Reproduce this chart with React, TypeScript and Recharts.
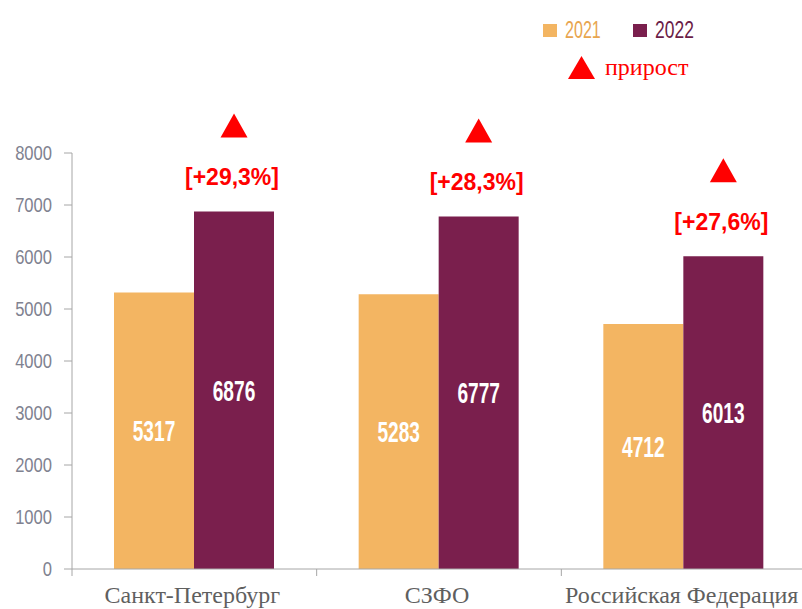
import React from 'react';
import { BarChart, Bar, XAxis, YAxis, LabelList, Legend } from 'recharts';

const categories = ['Санкт-Петербург', 'СЗФО', 'Российская Федерация'];
const values2021 = [5317, 5283, 4712];
const values2022 = [6876, 6777, 6013];
const growthLabels = ['[+29,3%]', '[+28,3%]', '[+27,6%]'];
const seriesNames = ['2021', '2022'];
const growthNote = 'прирост';
const yTicks = [0, 1000, 2000, 3000, 4000, 5000, 6000, 7000, 8000];

const ORANGE = '#F3B562';
const PURPLE = '#7A1F4D';
const RED = '#FF0000';
const AXIS = '#A6A6A6';
const SANS = "'Liberation Sans', Arial, sans-serif";
const SERIF = "'Liberation Serif', 'Times New Roman', serif";

const data = categories.map((c, i) => ({
  name: c,
  y2021: values2021[i],
  y2022: values2022[i],
  growth: growthLabels[i],
}));

const box = (p: any) => {
  const vb = p.viewBox || {};
  return {
    x: Number(p.x ?? vb.x),
    y: Number(p.y ?? vb.y),
    w: Number(p.width ?? vb.width),
    h: Number(p.height ?? vb.height),
  };
};

const ValueLabel = (p: any) => {
  const { x, y, w, h } = box(p);
  const cx = x + w / 2;
  const cy = y + h / 2;
  return (
    <text
      transform={`translate(${cx},${cy + 10.5}) scale(0.66,1)`}
      textAnchor="middle"
      fill="#FFFFFF"
      fontFamily={SANS}
      fontWeight="bold"
      fontSize={29}
    >
      {p.value}
    </text>
  );
};

const GrowthLabel = (p: any) => {
  const { x, y, w } = box(p);
  const cx = x + w / 2;
  const triTop = y - 98;
  const triH = 24;
  const triW = 27;
  return (
    <g>
      <polygon
        points={`${cx - triW / 2},${triTop + triH} ${cx + triW / 2},${triTop + triH} ${cx},${triTop}`}
        fill={RED}
      />
      <text
        x={cx - 2}
        y={y - 35}
        dy="0.36em"
        textAnchor="middle"
        fill={RED}
        fontFamily={SANS}
        fontWeight="bold"
        fontSize={23}
      >
        {p.value}
      </text>
    </g>
  );
};

const YTick = (p: any) => {
  const { x, y, payload } = p;
  return (
    <text
      transform={`translate(${x},${y}) scale(0.85,1)`}
      dy="0.36em"
      textAnchor="end"
      fill="#808290"
      fontFamily={SANS}
      fontSize={19.5}
    >
      {payload.value}
    </text>
  );
};

const XTick = (p: any) => {
  const { x, y, payload, index } = p;
  const half = typeof payload.offset === 'number' && payload.offset > 0 ? payload.offset : 122.3;
  const left = payload.coordinate - half;
  const right = payload.coordinate + half;
  const axisY = y - 9;
  return (
    <g>
      <line x1={left} x2={left} y1={axisY} y2={axisY + 7} stroke={AXIS} />
      {index === categories.length - 1 && (
        <line x1={right - 1} x2={right - 1} y1={axisY} y2={axisY + 7} stroke={AXIS} />
      )}
      <text x={x - 2} y={y + 25} textAnchor="middle" fill="#5F5F5F" fontFamily={SERIF} fontSize={24}>
        {payload.value}
      </text>
    </g>
  );
};

const LegendContent = () => (
  <svg width={802} height={100} style={{ display: 'block' }}>
    <rect x={543} y={24} width={14} height={13} fill={ORANGE} />
    <text
      transform="translate(565,38.3) scale(0.7,1)"
      fill="#E8A54E"
      fontFamily={SANS}
      fontSize={23}
    >
      {seriesNames[0]}
    </text>
    <rect x={633} y={24} width={14} height={13} fill={PURPLE} />
    <text
      transform="translate(655,38.3) scale(0.76,1)"
      fill="#6B1D47"
      fontFamily={SANS}
      fontSize={23}
    >
      {seriesNames[1]}
    </text>
    <polygon points="568,79 595,79 581.5,56" fill={RED} />
    <text x={605} y={75} fill={RED} fontFamily={SERIF} fontSize={24}>
      {growthNote}
    </text>
  </svg>
);

export default function App() {
  return (
    <div
      style={{
        position: 'absolute',
        left: 0,
        top: 0,
        width: 802,
        height: 609,
        overflow: 'hidden',
        background: '#FFFFFF',
      }}
    >
      <BarChart
        width={806}
        height={609}
        data={data}
        margin={{ top: 153, right: 0, bottom: 0, left: 0 }}
        barGap={0}
      >
        <Legend
          verticalAlign="middle"
          align="center"
          layout="horizontal"
          content={LegendContent as any}
          wrapperStyle={{ top: 0, left: 0, width: 802, height: 100 }}
        />
        <XAxis
          dataKey="name"
          height={40}
          tickLine={false}
          tickSize={7}
          tickMargin={2}
          axisLine={{ stroke: AXIS }}
          tick={XTick as any}
          interval={0}
        />
        <YAxis
          width={72}
          domain={[0, 8000]}
          ticks={yTicks}
          interval={0}
          tickSize={8}
          tickMargin={12}
          axisLine={{ stroke: AXIS }}
          tickLine={{ stroke: AXIS }}
          tick={YTick as any}
        />
        <Bar dataKey="y2021" name={seriesNames[0]} fill={ORANGE} barSize={80} isAnimationActive={false}>
          <LabelList dataKey="y2021" content={ValueLabel as any} />
        </Bar>
        <Bar dataKey="y2022" name={seriesNames[1]} fill={PURPLE} barSize={80} isAnimationActive={false}>
          <LabelList dataKey="y2022" content={ValueLabel as any} />
          <LabelList dataKey="growth" content={GrowthLabel as any} />
        </Bar>
      </BarChart>
    </div>
  );
}
